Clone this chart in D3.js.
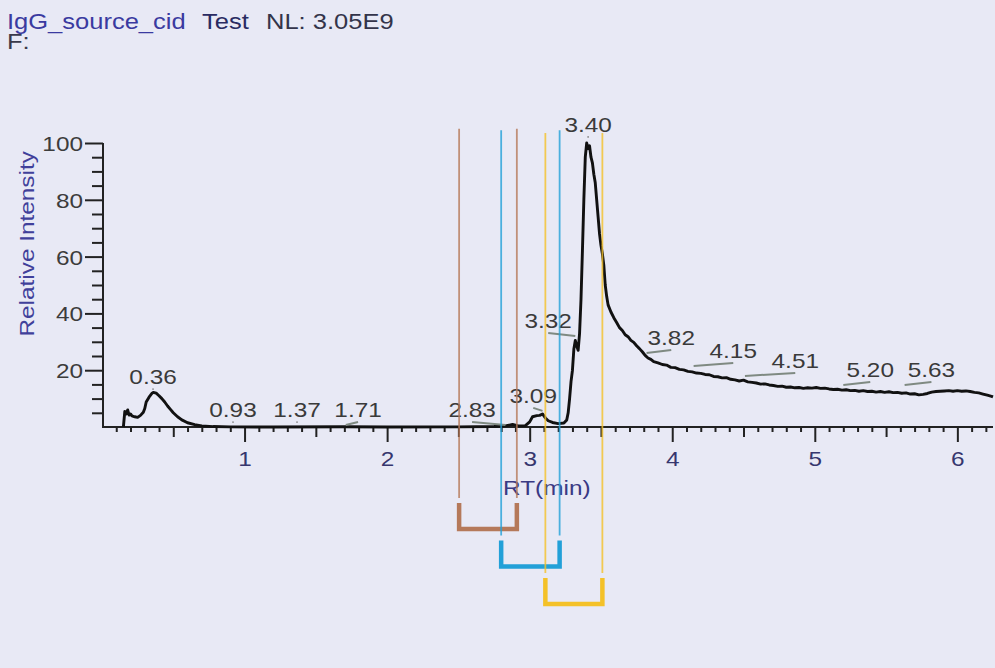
<!DOCTYPE html>
<html>
<head>
<meta charset="utf-8">
<script src="https://cdn.jsdelivr.net/npm/d3@7"></script>
<style>
    html, body { margin: 0; padding: 0; background: #e8e9f5; }
    svg { display: block; font-family: "Liberation Sans", Arial, sans-serif; }
</style>
</head>
<body>
<div id="chart"></div>
<script>
// chromatogram trace (RT in min, relative intensity %)
const rt = [0.15, 0.16, 0.17, 0.18, 0.19, 0.20, 0.21, 0.23, 0.25, 0.27, 0.29, 0.30, 0.31, 0.33, 0.35, 0.36,
    0.38, 0.40, 0.42, 0.44, 0.46, 0.48, 0.50, 0.53, 0.56, 0.60, 0.65, 0.70, 0.78, 0.90, 1.20, 1.71, 2.00,
    2.50, 2.75, 2.83, 2.88, 2.92, 2.97, 3.00, 3.02, 3.05, 3.07, 3.09, 3.11, 3.13, 3.16, 3.20, 3.24, 3.26,
    3.27, 3.28, 3.29, 3.30, 3.31, 3.32, 3.33, 3.34, 3.35, 3.36, 3.37, 3.38, 3.39, 3.40, 3.41, 3.42, 3.43,
    3.44, 3.45, 3.46, 3.47, 3.48, 3.49, 3.50, 3.51, 3.52, 3.53, 3.54, 3.55, 3.57, 3.59, 3.61, 3.63, 3.65,
    3.67, 3.69, 3.71, 3.73, 3.75, 3.77, 3.79, 3.81, 3.83, 3.85, 3.87, 3.90, 3.93, 3.96, 3.99, 4.02, 4.05,
    4.08, 4.11, 4.14, 4.17, 4.20, 4.23, 4.26, 4.29, 4.32, 4.35, 4.38, 4.41, 4.44, 4.47, 4.50, 4.53, 4.56,
    4.59, 4.62, 4.65, 4.68, 4.71, 4.74, 4.77, 4.80, 4.83, 4.86, 4.89, 4.92, 4.95, 4.98, 5.01, 5.04, 5.07,
    5.10, 5.13, 5.16, 5.19, 5.22, 5.25, 5.28, 5.31, 5.34, 5.37, 5.40, 5.43, 5.46, 5.49, 5.52, 5.55, 5.58,
    5.61, 5.64, 5.67, 5.70, 5.73, 5.76, 5.79, 5.82, 5.85, 5.88, 5.91, 5.94, 5.97, 6.00, 6.03, 6.06, 6.09,
    6.12, 6.15, 6.18, 6.21, 6.24, 6.25];
const intensity = [0.0, 5.5, 4.6, 6.0, 4.2, 4.6, 3.9, 3.6, 3.4, 4.1, 5.2, 6.5, 8.8, 10.5, 11.8, 12.2,
    11.9, 11.0, 10.0, 8.8, 7.4, 6.2, 5.0, 3.6, 2.5, 1.5, 0.8, 0.4, 0.15, 0.05, 0.0, 0.1, 0.0,
    0.05, 0.2, 0.4, 0.9, 0.4, 0.5, 1.8, 3.6, 4.0, 4.1, 4.6, 3.2, 2.2, 1.6, 1.2, 1.4, 2.5,
    5.0, 10.0, 16.0, 20.0, 27.5, 30.5, 28.5, 27.0, 33.0, 45.0, 62.0, 80.0, 95.0, 100.0, 98.0, 99.0, 95.0,
    93.0, 89.0, 86.0, 80.0, 74.0, 68.0, 64.0, 61.0, 57.0, 50.0, 46.0, 43.0, 40.5, 38.5, 36.8, 35.0, 34.0,
    32.5, 31.8, 30.5, 29.8, 28.6, 27.6, 26.5, 25.2, 24.3, 23.8, 23.0, 22.6, 22.0, 21.8, 21.0, 20.9, 20.3,
    20.1, 19.6, 19.4, 19.0, 18.9, 18.5, 18.4, 17.8, 17.7, 17.3, 17.4, 16.8, 16.6, 16.2, 16.5, 15.9, 15.7,
    15.5, 15.1, 15.2, 14.8, 14.6, 14.3, 14.4, 14.0, 14.1, 13.8, 13.9, 13.6, 13.8, 13.7, 13.9, 13.6, 13.7,
    13.4, 13.2, 13.3, 13.0, 13.1, 12.8, 12.9, 12.6, 12.8, 12.5, 12.6, 12.3, 12.5, 12.2, 12.4, 12.1, 12.2,
    11.9, 12.0, 11.6, 11.7, 11.3, 11.5, 11.8, 12.3, 12.5, 12.6, 12.7, 12.8, 12.6, 12.8, 12.6, 12.7, 12.5,
    12.2, 12.0, 11.6, 11.2, 10.8, 10.6];

// peak annotations: apex RT, where the label sits (RT, intensity level)
const peakRT = [0.36, 0.93, 1.37, 1.71, 2.83, 3.09, 3.32, 3.40, 3.82, 4.15, 4.51, 5.20, 5.63];
const peakText = ["0.36", "0.93", "1.37", "1.71", "2.83", "3.09", "3.32", "3.40", "3.82", "4.15", "4.51", "5.20", "5.63"];
const labelRT = [0.358, 0.919, 1.368, 1.796, 2.596, 3.025, 3.13, 3.41, 3.993, 4.428, 4.863, 5.389, 5.818];
const labelLevel = [15.1, 3.5, 3.5, 3.5, 3.5, 8.5, 34.9, 103.9, 28.9, 24.3, 20.8, 17.6, 17.6];

// RT windows (vertical markers + brackets under the axis)
const windowStart = [2.505, 2.80, 3.11];
const windowEnd = [2.91, 3.21, 3.51];
const windowTop = [105, 104.5, 103.5];
const windowColor = ["#b5795a", "#22a0d8", "#f4c128"];

// axes
const xMajor = [1, 2, 3, 4, 5, 6];
const yMajor = [20, 40, 60, 80, 100];

const W = 995, H = 668;
const FONT = 21, SX = 1.16;   // the original font runs wider than Arial
const margin = {left: 102, top: 143, axisY: 427, right: 993};

const svg = d3.select("#chart").append("svg")
    .attr("width", W)
    .attr("height", H);

svg.append("rect")
    .attr("width", W).attr("height", H)
    .attr("fill", "#e8e9f5");

const x = d3.scaleLinear()
    .domain([0, 6.25])
    .range([margin.left, margin.right]);

const y = d3.scaleLinear()
    .domain([0, 100])
    .range([margin.axisY, margin.top]);

// stretched text helper
function txt(parent, s, px, py, {anchor = "start", fill = "#333", rotate = 0, size = FONT} = {}) {
    return parent.append("text")
        .attr("transform", `translate(${px},${py}) rotate(${rotate}) scale(${SX},1)`)
        .attr("text-anchor", anchor)
        .attr("font-size", size)
        .attr("fill", fill)
        .text(s);
}

// header
txt(svg, "IgG_source_cid", 7, 29, {fill: "#3a3aa0", size: 22});
txt(svg, "Test", 202, 29, {fill: "#2a2b62", size: 22});
txt(svg, "NL: 3.05E9", 266, 29, {fill: "#33344a", size: 22});
txt(svg, "F:", 7, 49, {fill: "#3a3a4a", size: 22});

// y axis: major ticks with labels, minor every 5
const yMinor = d3.range(5, 100, 5).filter(v => !yMajor.includes(v));
const yAxisG = svg.append("g").attr("transform", `translate(${margin.left + 1},0)`);

yAxisG.append("g")
    .call(d3.axisLeft(y).tickValues(yMinor).tickSize(11).tickFormat(""))
    .call(g => g.select(".domain").remove());

const yMaj = yAxisG.append("g")
    .call(d3.axisLeft(y).tickValues(yMajor).tickSize(18).tickFormat(d3.format("d")))
    .call(g => g.select(".domain").remove());

yAxisG.selectAll(".tick line").attr("stroke", "#222").attr("stroke-width", 2);
yMaj.selectAll(".tick text")
    .attr("x", null).attr("dy", null)
    .attr("transform", `translate(-20,7.5) scale(${SX},1)`)
    .attr("font-size", FONT)
    .attr("font-family", null)
    .attr("fill", "#3c3c3c");

yAxisG.append("line")
    .attr("y1", y(0)).attr("y2", y(100))
    .attr("stroke", "#222").attr("stroke-width", 2);

txt(svg, "Relative Intensity", 34, y(64.5), {anchor: "middle", rotate: -90, fill: "#40409a"});

// x axis: minor every 0.1, medium at halves, major at whole minutes
const xAll = d3.range(1, 63).map(i => i / 10);
const xHalf = [0.5, 1.5, 2.5, 3.5, 4.5, 5.5];
const xMinor = xAll.filter(v => Math.abs(v * 2 - Math.round(v * 2)) > 1e-6);

const xAxisG = svg.append("g").attr("transform", `translate(0,${margin.axisY})`);

xAxisG.append("g")
    .call(d3.axisBottom(x).tickValues(xMinor).tickSize(5).tickFormat(""))
    .call(g => g.select(".domain").remove());
xAxisG.append("g")
    .call(d3.axisBottom(x).tickValues(xHalf).tickSize(10).tickFormat(""))
    .call(g => g.select(".domain").remove());
const xMaj = xAxisG.append("g")
    .call(d3.axisBottom(x).tickValues(xMajor).tickSize(15).tickFormat(d3.format("d")))
    .call(g => g.select(".domain").remove());

xAxisG.selectAll(".tick line").attr("stroke", "#222").attr("stroke-width", 2);
xMaj.selectAll(".tick text")
    .attr("y", null).attr("dy", null)
    .attr("transform", `translate(0,39) scale(${SX},1)`)
    .attr("font-size", FONT)
    .attr("font-family", null)
    .attr("fill", "#36366e");

xAxisG.append("line")
    .attr("x1", x(0)).attr("x2", x(6.25))
    .attr("stroke", "#222").attr("stroke-width", 2);

txt(svg, "RT(min)", x(3.12), margin.axisY + 68, {anchor: "middle", fill: "#3a3a84"});

// trace
const pts = rt.map((t, i) => [t, intensity[i]]);
svg.append("path")
    .datum(pts)
    .attr("fill", "none")
    .attr("stroke", "#111")
    .attr("stroke-width", 2.9)
    .attr("stroke-linejoin", "round")
    .attr("d", d3.line().x(d => x(d[0])).y(d => y(d[1])));

// peak labels with leader lines
const peaks = svg.append("g");
peakRT.forEach((p, i) => {
    const lx = x(labelRT[i]), ly = y(labelLevel[i]);
    txt(peaks, peakText[i], lx, ly, {anchor: "middle", fill: "#3a3a3a"});
    if (Math.abs(lx - x(p)) > 5) {
        peaks.append("line")
            .attr("x1", lx).attr("y1", ly + 5)
            .attr("x2", x(p)).attr("y2", ly + 8)
            .attr("stroke", "#7f8a82").attr("stroke-width", 2);
    } else {
        peaks.append("circle")
            .attr("cx", lx).attr("cy", ly + 5).attr("r", 0.9)
            .attr("fill", "#888");
    }
});

// RT windows
const bracketH = 26, bracketGap = 5;
windowStart.forEach((s, i) => {
    const g = svg.append("g");
    const x0 = x(s), x1 = x(windowEnd[i]);
    const top = margin.axisY + 76 + i * 37.5;
    [x0, x1].forEach(xx => {
        g.append("line")
            .attr("x1", xx).attr("x2", xx)
            .attr("y1", y(windowTop[i])).attr("y2", top - bracketGap)
            .attr("stroke", windowColor[i])
            .attr("stroke-opacity", 0.8)
            .attr("stroke-width", 1.8);
    });
    g.append("path")
        .attr("d", `M${x0},${top}V${top + bracketH}H${x1}V${top}`)
        .attr("fill", "none")
        .attr("stroke", windowColor[i])
        .attr("stroke-width", 4.5);
});
</script>
</body>
</html>
